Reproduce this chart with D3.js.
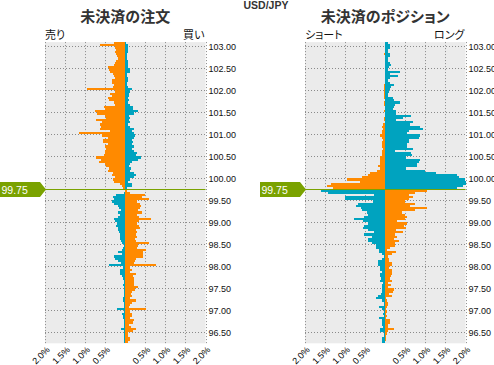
<!DOCTYPE html>
<html><head><meta charset="utf-8">
<script src="https://cdn.jsdelivr.net/npm/d3@7"></script>
<style>
body{margin:0;background:#fff}
svg{display:block}
.jp{font-family:"Noto Sans CJK JP","Noto Sans",sans-serif;font-feature-settings:"palt";}
.num{font-family:"Liberation Sans",Arial,sans-serif;}
</style>
</head><body>
<svg id="c" width="494" height="365"></svg>
<script>
// ---------------- DATA ----------------
const symbol = "USD/JPY";
const currentPrice = 99.75;
const binSize = 0.05;
// price bins (lower edges), descending: above and below the current price
const levelsAbove = d3.range(67).map(i => +(103.05 - i * binSize).toFixed(2)); // 103.05 .. 99.75
const levelsBelow = d3.range(70).map(i => +(99.70 - i * binSize).toFixed(2));  // 99.70 .. 96.25
const yTickValues = [103.00,102.50,102.00,101.50,101.00,100.50,100.00,99.50,99.00,98.50,98.00,97.50,97.00,96.50];
const xTickValues = [-2.0,-1.5,-1.0,-0.5,0.5,1.0,1.5,2.0];

// 未決済の注文 (open orders, %) — left = 売り, right = 買い
const orderSellAbove = [0.29,0.64,0.26,0.24,0.26,0.24,0.21,0.18,0.24,0.26,
  0.28,0.44,0.41,0.39,0.31,0.28,0.26,0.34,0.33,0.29,
  0.31,0.96,0.26,0.39,0.33,0.43,0.41,0.29,0.26,0.54,
  0.51,0.76,0.71,0.51,0.49,0.74,0.58,0.64,0.61,0.64,
  0.38,1.16,0.59,0.44,0.56,
  0.56,0.44,0.51,0.48,0.51,0.51,0.53,0.74,0.61,0.66,
  0.51,0.49,0.41,0.43,0.31,0.33,0.26,0.31,0.28,0.14,
  0.09,0.06];
const orderBuyAbove = [0.03,0.08,0.07,0.06,0.06,0.04,0.05,0.04,0.06,0.08,
  0.08,0.06,0.11,0.13,0.04,0.04,0.06,0.08,0.04,0.04,
  0.06,0.16,0.13,0.09,0.09,0.08,0.09,0.08,0.11,0.19,
  0.19,0.31,0.21,0.09,0.11,0.09,0.13,0.08,0.13,0.21,
  0.16,0.21,0.24,0.23,0.18,
  0.19,0.16,0.21,0.18,0.23,0.29,0.26,0.39,0.33,0.16,
  0.13,0.09,0.14,0.11,0.21,0.26,0.21,0.11,0.08,0.16,
  0.16,0.04];
const orderSellBelow = [0.00,
  0.04,0.24,0.31,0.28,0.34,0.29,0.19,0.16,0.11,0.18,0.14,0.18,0.28,0.26,0.21,0.23,0.18,0.19,0.16,0.13,0.14,
  0.12,
  0.11,0.09,0.04,0.06,0.08,0.18,0.09,0.29,0.26,0.18,
  0.11,0.41,0.06,0.13,0.14,0.14,0.09,0.06,0.04,0.04,
  0.06,0.04,0.04,0.03,0.04,0.03,0.06,0.06,0.04,0.03,
  0.04,0.21,0.04,0.08,0.06,0.06,0.04,0.04,0.04,0.03,
  0.11,0.04,0.04,0.04,0.03,0.04,
  0.04];
const orderBuyBelow = [0.05,
  0.13,0.49,0.41,0.59,0.29,0.36,0.39,0.38,0.33,0.41,0.29,0.34,0.63,0.34,0.29,0.34,0.38,0.28,0.29,0.28,0.29,
  0.25,
  0.28,0.58,0.33,0.29,0.51,0.44,0.43,0.43,0.28,0.24,
  0.21,0.76,0.11,0.16,0.11,0.26,0.19,0.21,0.21,0.21,
  0.21,0.31,0.24,0.16,0.14,0.16,0.13,0.26,0.16,0.11,
  0.09,0.51,0.11,0.16,0.16,0.11,0.23,0.19,0.09,0.14,
  0.26,0.19,0.08,0.06,0.11,0.13,
  0.08];

// 未決済のポジション (open positions, %) — left = ショート, right = ロング
const posShortAbove = [0,0,0,0,0,0.04,0,0,0,0,
  0,0,0,0,0,0,0,0,0,0.04,
  0.03,0.03,0.03,0.03,0.03,0.03,0,0.04,0.03,0,
  0,0.03,0,0,0.04,0.04,0,0.06,0.08,0.06,
  0.09,0.09,0.14,0.09,0.06,
  0.09,0.08,0.09,0.06,0.08,0.09,0.09,0.14,0.14,0.14,
  0.13,0.19,0.14,0.21,0.38,0.43,0.59,0.96,0.63,1.36,
  1.46,1.29];
const posLongAbove = [0.08,0.11,0.13,0.08,0.06,0.13,0.11,0.08,0.06,0.13,
  0.14,0.09,0.06,0.36,0.11,0.33,0.11,0.06,0.11,0.23,
  0.14,0.11,0.09,0.08,0.08,0.19,0.23,0.36,0.24,0.21,
  0.19,0.28,0.26,0.63,0.44,0.26,0.68,0.61,0.86,0.93,
  0.58,0.53,0.86,0.84,0.58,
  0.58,0.54,0.53,0.68,0.24,0.64,0.66,0.51,0.86,0.84,
  0.78,0.78,0.51,0.99,1.26,1.78,1.84,1.98,2.0,2.0,
  1.94,1.78];
const posShortBelow = [1.59,1.43,0.28,1.01,1.01,0.31,0.68,0.74,0.61,0.59,0.46,0.43,0.54,0.79,0.56,0.44,0.53,0.56,0.43,0.29,0.53,0.34,
  0.44,
  0.43,0.34,0.24,0.23,0.16,0.16,0.09,0.04,0.08,0.18,
  0.19,0.19,0.13,0.14,0.09,0.14,0.13,0.11,0.13,0.06,
  0.09,0.09,0.08,0.08,0.11,0.18,0.24,0.09,0.04,0.04,
  0.16,0.09,0.04,0.06,0.04,0.16,0.09,0.09,0.08,0.06,
  0.14,0.13,0.04,0.04,0.08,0.09,
  0.09];
const posLongBelow = [1.03,0.73,0.58,0.68,0.58,0.49,0.74,0.61,1.04,0.73,0.41,0.48,0.53,0.49,0.29,0.53,0.46,0.51,0.28,0.43,0.24,0.29,
  0.23,
  0.34,0.24,0.24,0.11,0.04,0.28,0.16,0.06,0.09,0.09,
  0.16,0.18,0.09,0.18,0.16,0.16,0.14,0.11,0.16,0.06,
  0.14,0.08,0.23,0.19,0.09,0.16,0.03,0.04,0.06,0.06,
  0.04,0.01,0.04,0.03,0.04,0.03,0.13,0.13,0.08,0.08,
  0.23,0.08,0.04,0.03,0.01,0.01,
  0.00];

// ---------------- STYLE ----------------
const ORANGE = "#ff8a00";
const TEAL = "#00a3bf";
const GREEN = "#7aa200";
const BG = "#ebebeb";
const GRID = "#8a8a8a";

const svg = d3.select("#c");
const y = d3.scaleLinear().domain([96.25, 103.10]).range([343.3, 42.1]);

const panels = [
  {x0: 45, x1: 205.5, title: "未決済の注文", left: "売り", right: "買い",
   leftAbove: orderSellAbove, rightAbove: orderBuyAbove, leftBelow: orderSellBelow, rightBelow: orderBuyBelow,
   markerX: 0},
  {x0: 305, x1: 465.5, title: "未決済のポジション", left: "ショート", right: "ロング",
   leftAbove: posShortAbove, rightAbove: posLongAbove, leftBelow: posShortBelow, rightBelow: posLongBelow,
   markerX: 260}
];

svg.append("text").attr("class","num").attr("x", 266).attr("y", 9)
  .attr("text-anchor","middle").attr("font-size", 10.5).attr("font-weight","bold")
  .attr("fill","#333").text(symbol);

panels.forEach(p => {
  const x = d3.scaleLinear().domain([-2, 2]).range([p.x0, p.x1]);
  const g = svg.append("g");
  const top = y.range()[1], bot = y.range()[0];

  g.append("rect").attr("x", p.x0).attr("y", top).attr("width", p.x1 - p.x0).attr("height", bot - top).attr("fill", BG);

  // grid
  g.append("g").selectAll("line.v").data(xTickValues).join("line")
    .attr("x1", d => Math.round(x(d)) + 0.5).attr("x2", d => Math.round(x(d)) + 0.5)
    .attr("y1", top).attr("y2", bot)
    .attr("stroke", GRID).attr("stroke-dasharray", "1,2");
  g.append("g").selectAll("line.h").data(yTickValues).join("line")
    .attr("x1", p.x0).attr("x2", p.x1)
    .attr("y1", d => Math.round(y(d)) + 0.5).attr("y2", d => Math.round(y(d)) + 0.5)
    .attr("stroke", GRID).attr("stroke-dasharray", "1,2");

  // bars
  const bars = g.append("g").attr("shape-rendering", "crispEdges");
  const addBars = (levels, vals, side, color) => {
    bars.append("g").selectAll("rect").data(levels.map((lv, i) => ({lv, v: vals[i]})).filter(d => d.v > 0))
      .join("rect")
      .attr("x", d => side < 0 ? x(-d.v) : x(0))
      .attr("width", d => Math.abs(x(d.v) - x(0)))
      .attr("y", d => y(d.lv + binSize))
      .attr("height", d => y(d.lv) - y(d.lv + binSize))
      .attr("fill", color);
  };
  addBars(levelsAbove, p.leftAbove, -1, ORANGE);
  addBars(levelsAbove, p.rightAbove, 1, TEAL);
  addBars(levelsBelow, p.leftBelow, -1, TEAL);
  addBars(levelsBelow, p.rightBelow, 1, ORANGE);

  // current price line
  const py = Math.round(y(currentPrice)) + 0.5;
  g.append("line").attr("x1", p.x0).attr("x2", p.x1).attr("y1", py).attr("y2", py)
    .attr("stroke", GREEN).attr("stroke-width", 1);

  // y axis
  const ya = g.append("g").attr("transform", `translate(${p.x1},0)`)
    .call(d3.axisRight(y).tickValues(yTickValues).tickFormat(d3.format(".2f")).tickSize(0).tickPadding(3));
  ya.select(".domain").remove();
  ya.selectAll("text").attr("class","num").attr("font-size", 9).attr("fill","#111").attr("font-family", null);

  // x axis
  const xa = g.append("g").attr("transform", `translate(0,${bot})`)
    .call(d3.axisBottom(x).tickValues(xTickValues).tickFormat(d => Math.abs(d).toFixed(1) + "%").tickSize(0));
  xa.select(".domain").remove();
  xa.selectAll("text").attr("class","num").attr("font-family", null).attr("font-size", 9).attr("fill","#000")
    .attr("x", 0).attr("y", 0).attr("dy", 0)
    .attr("text-anchor", "end").attr("transform", "translate(5,7) rotate(-45)");

  // titles
  g.append("text").attr("class","jp").attr("x", (p.x0 + p.x1) / 2).attr("y", 22)
    .attr("text-anchor","middle").attr("font-size", 15).attr("font-weight","bold").attr("fill","#333")
    .text(p.title);
  g.append("text").attr("class","jp").attr("x", p.x0).attr("y", 39)
    .attr("font-size", 11).attr("fill","#111").text(p.left);
  g.append("text").attr("class","jp").attr("x", p.x1 - 1).attr("y", 39).attr("text-anchor","end")
    .attr("font-size", 11).attr("fill","#111").text(p.right);

  // price marker
  const m = p.markerX, h1 = py - 7.5, h2 = py + 7.5;
  g.append("path")
    .attr("d", `M${m},${h1}L${p.x0 - 5},${h1}L${p.x0 + 1},${py}L${p.x0 - 5},${h2}L${m},${h2}Z`)
    .attr("fill", GREEN);
  g.append("text").attr("class","num").attr("x", m + 1.5).attr("y", py + 4)
    .attr("font-size", 10.5).attr("fill","#fff").text(currentPrice.toFixed(2));
});
</script>
</body></html>
